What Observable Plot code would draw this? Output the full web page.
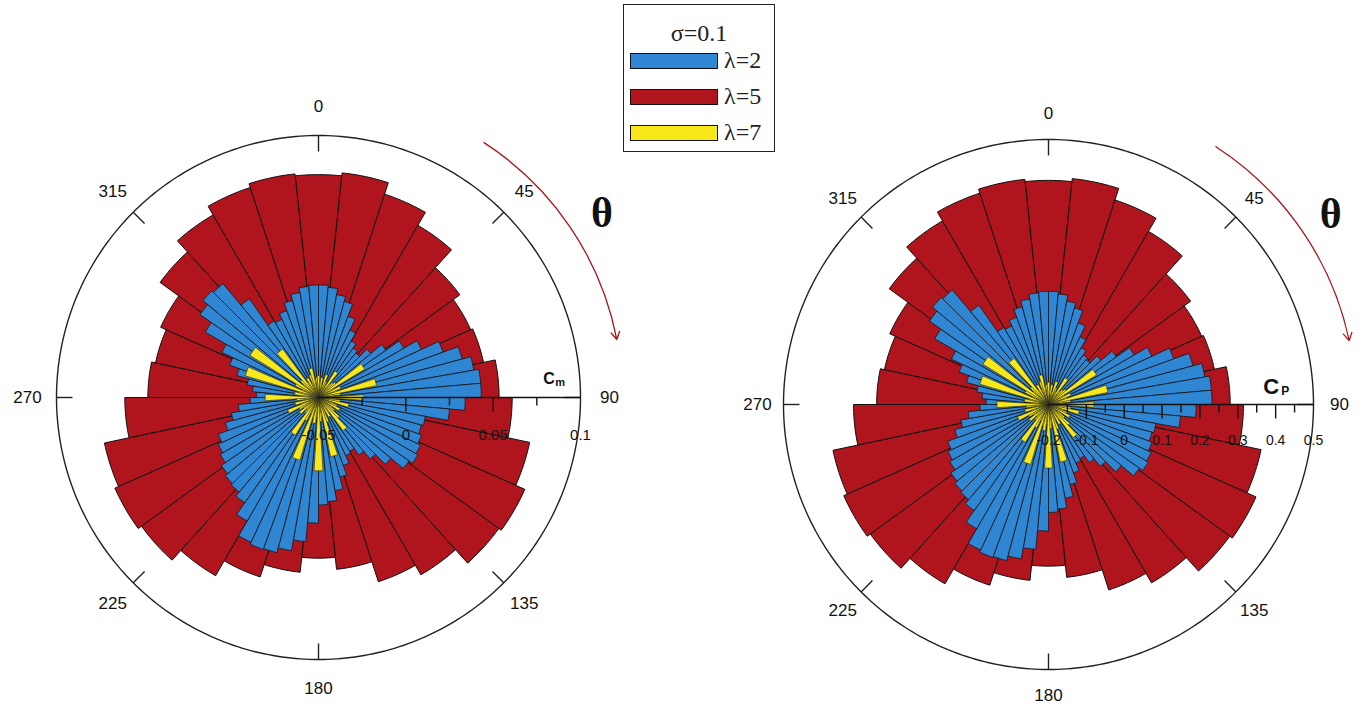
<!DOCTYPE html>
<html><head><meta charset="utf-8">
<script src="https://cdn.jsdelivr.net/npm/d3@7"></script>
<script src="https://cdn.jsdelivr.net/npm/@observablehq/plot@0.6"></script>
<style>
body{margin:0;background:#fff;width:1365px;height:706px;position:relative;overflow:hidden;font-family:"Liberation Sans",Arial,sans-serif}
#left{position:absolute;left:0;top:0}
#right{position:absolute;left:683px;top:0}
#legend{position:absolute;left:623px;top:4px;width:150px;height:146px;border:1.5px solid #222;background:#fff;font-family:"Liberation Serif","Times New Roman",serif;color:#222}
#legend .title{position:absolute;left:0;width:100%;top:15px;text-align:center;font-size:24px;line-height:26px}
#legend .sw{position:absolute;left:6px;width:86px;height:14px;border:1.3px solid #111}
#legend .lab{position:absolute;left:100px;font-size:24px;line-height:24px}
</style></head>
<body>
<div id="left"></div><div id="right"></div>
<div id="legend"></div>
<script>
// ---- data ----
const seriesNames = ["λ=2", "λ=5", "λ=7"];
const seriesColors = ["#2f86d3", "#b0141c", "#f8e81a"];
const legendTitle = "σ=0.1";

// angular bins (degrees, clockwise from top)
const redAngles = d3.range(0, 360, 12);       // 30 bars, 12° wide
const blueAngles = d3.range(2.5, 360, 5);     // 72 bars, 5° wide
const yellowAngles = d3.range(0, 360, 5);     // 72 bars

// left panel: Cm
const cmRed = [0.0776,0.0793,0.0724,0.0638,0.0500,0.0454,0.0466,0.0534,0.0609,0.0736,
  0.0793,0.0776,0.0672,0.0609,0.0489,0.0420,0.0506,0.0580,0.0678,0.0753,
  0.0776,0.0753,0.0609,0.0477,0.0454,0.0489,0.0621,0.0707,0.0764,0.0787];
const cmBlue = [0.0144,0.0133,0.0098,0.0069,-0.0006,-0.0075,-0.0126,-0.0155,-0.0167,-0.0109,
  -0.0029,0.0064,0.0150,0.0259,0.0351,0.0403,0.0432,0.0432,0.0340,0.0253,
  0.0121,0.0110,0.0127,0.0144,0.0156,0.0133,0.0041,-0.0040,-0.0098,-0.0144,
  -0.0132,-0.0086,-0.0029,0.0041,0.0098,0.0115,0.0219,0.0328,0.0391,0.0420,
  0.0426,0.0414,0.0317,0.0236,0.0207,0.0196,0.0179,0.0150,0.0133,0.0110,
  0.0052,0.0006,-0.0040,-0.0109,-0.0144,-0.0121,-0.0086,-0.0017,0.0041,0.0110,
  0.0248,0.0328,0.0363,0.0351,0.0190,0.0006,-0.0006,0.0029,0.0075,0.0110,
  0.0138,0.0144];
const cmYellow = [-0.0374,-0.0408,-0.0385,-0.0420,-0.0362,-0.0397,-0.0414,-0.0322,-0.0402,-0.0385,
  -0.0374,-0.0190,-0.0397,-0.0362,-0.0385,-0.0161,-0.0374,-0.0414,-0.0241,-0.0397,
  -0.0374,-0.0322,-0.0408,-0.0385,-0.0362,-0.0408,-0.0385,-0.0339,-0.0264,-0.0397,
  -0.0374,-0.0408,-0.0351,-0.0155,-0.0385,-0.0362,-0.0080,-0.0385,-0.0351,-0.0374,
  -0.0126,-0.0397,-0.0351,-0.0247,-0.0385,-0.0408,-0.0362,-0.0397,-0.0374,-0.0310,
  -0.0397,-0.0362,-0.0408,-0.0374,-0.0195,-0.0397,-0.0362,-0.0385,-0.0063,-0.0397,
  -0.0351,-0.0040,-0.0385,-0.0362,-0.0155,-0.0397,-0.0374,-0.0408,-0.0362,-0.0328,
  -0.0397,-0.0385];
const cmDomain = [-0.05, 0.1];
const cmTicks = [-0.025, 0, 0.025, 0.05, 0.075];
const cmMajor = [0, 0.05];
const cmLabels = [-0.05, 0, 0.05, 0.1];
const cmLabelText = ["-0.05", "0", "0.05", "0.1"];

// right panel: Cp
const cpRed = [0.392,0.400,0.368,0.328,0.264,0.243,0.248,0.280,0.315,0.374,
  0.400,0.392,0.344,0.315,0.259,0.227,0.267,0.302,0.347,0.382,
  0.392,0.382,0.315,0.254,0.243,0.259,0.320,0.360,0.387,0.398];
const cpBlue = [0.099,0.093,0.077,0.064,0.029,-0.003,-0.027,-0.040,-0.045,-0.019,
  0.019,0.061,0.101,0.152,0.195,0.219,0.232,0.232,0.190,0.150,
  0.088,0.083,0.091,0.099,0.104,0.093,0.051,0.013,-0.013,-0.035,
  -0.029,-0.008,0.019,0.051,0.077,0.085,0.134,0.184,0.214,0.227,
  0.230,0.224,0.179,0.142,0.128,0.123,0.115,0.101,0.093,0.083,
  0.056,0.035,0.013,-0.019,-0.035,-0.024,-0.008,0.024,0.051,0.083,
  0.147,0.184,0.200,0.195,0.120,0.035,0.029,0.045,0.067,0.083,
  0.096,0.099];
const cpYellow = [-0.141,-0.157,-0.147,-0.163,-0.136,-0.152,-0.160,-0.117,-0.155,-0.147,
  -0.141,-0.051,-0.152,-0.136,-0.147,-0.040,-0.141,-0.160,-0.080,-0.152,
  -0.141,-0.117,-0.157,-0.147,-0.136,-0.157,-0.147,-0.125,-0.091,-0.152,
  -0.141,-0.157,-0.131,-0.045,-0.147,-0.136,-0.032,-0.147,-0.131,-0.141,
  -0.035,-0.152,-0.131,-0.083,-0.147,-0.157,-0.136,-0.152,-0.141,-0.112,
  -0.152,-0.136,-0.157,-0.141,-0.064,-0.152,-0.136,-0.147,-0.011,-0.152,
  -0.131,0.003,-0.147,-0.136,-0.048,-0.152,-0.141,-0.157,-0.136,-0.120,
  -0.152,-0.147];
const cpDomain = [-0.2, 0.5];
const cpTicks = [-0.15,-0.1,-0.05,0,0.05,0.1,0.15,0.2,0.25,0.3,0.35,0.4,0.45];
const cpMajor = [-0.1,0,0.1,0.2,0.3,0.4];
const cpLabels = [-0.2,-0.1,0,0.1,0.2,0.3,0.4,0.5];
const cpLabelText = ["-0.2","-0.1","0","0.1","0.2","0.3","0.4","0.5"];

const angleTicks = [0,45,90,135,180,225,270,315];

// ---- drawing ----
const rad = Math.PI / 180;
const pt = (deg, r) => ({x: r * Math.sin(deg * rad), y: r * Math.cos(deg * rad)});

function polarChart(cfg) {
  const {W, H, cx, cy, R, domain} = cfg;
  const rs = d3.scaleLinear().domain(domain).range([0, 1]).clamp(true);
  function wedges(angles, values, width, sortAsc) {
    const out = [];
    let idx = d3.range(angles.length);
    if (sortAsc) idx = idx.sort((a, b) => values[a] - values[b]);
    idx.forEach((i, order) => {
      const a = angles[i];
      const r = rs(values[i]);
      out.push({x: 0, y: 0, k: order});
      const n = 10;
      for (let j = 0; j <= n; j++) out.push({...pt(a - width / 2 + width * j / n, r), k: order});
      out.push({x: 0, y: 0, k: order});
    });
    return out;
  }
  const circle = d3.range(0, 361, 1).map(a => pt(a, 1));
  const px = 1 / R;
  const sans = "Liberation Sans, Arial, sans-serif";
  return Plot.plot({
    width: W, height: H, margin: 0,
    x: {domain: [-cx / R, (W - cx) / R], range: [0, W], axis: null},
    y: {domain: [-(H - cy) / R, cy / R], range: [H, 0], axis: null},
    style: {background: "transparent", overflow: "visible"},
    marks: [
      Plot.line(circle, {x: "x", y: "y", stroke: "#222", strokeWidth: 1.4}),
      Plot.link(angleTicks, {x1: d => pt(d, 1 - 16 * px).x, y1: d => pt(d, 1 - 16 * px).y,
        x2: d => pt(d, 1).x, y2: d => pt(d, 1).y, stroke: "#222", strokeWidth: 1.4}),
      Plot.text(angleTicks, {x: d => pt(d, 291 * px).x, y: d => pt(d, 291 * px).y, text: d => String(d),
        fontSize: 17, fontFamily: sans, fill: "#111", lineAnchor: "middle"}),
      Plot.line(wedges(redAngles, cfg.red, 12), {x: "x", y: "y", z: "k", fill: seriesColors[1], stroke: "#111", strokeWidth: 1, curve: "linear"}),
      Plot.line(wedges(blueAngles, cfg.blue, 5), {x: "x", y: "y", z: "k", fill: seriesColors[0], stroke: "#111", strokeWidth: 0.75, curve: "linear"}),
      Plot.line(wedges(yellowAngles, cfg.yellow, 7, true), {x: "x", y: "y", z: "k", fill: seriesColors[2], stroke: "#222", strokeWidth: 0.6, curve: "linear"}),
      // radial axis
      Plot.link([0], {x1: () => 0, y1: () => 0, x2: () => 1, y2: () => 0, stroke: "#111", strokeWidth: 1.6}),
      Plot.link(cfg.ticks, {x1: d => rs(d), x2: d => rs(d), y1: () => 0,
        y2: d => (cfg.major.includes(d) ? -14 : -8) * px, stroke: "#111", strokeWidth: 1.4}),
      Plot.text(cfg.labels, {x: d => rs(d), y: () => 0, dy: cfg.labelDy, text: (d, i) => cfg.labelText[i],
        fontSize: cfg.labelSize, fontFamily: sans, fill: "#111", lineAnchor: "middle"}),
      // axis name
      Plot.text([cfg.axisName], {x: () => cfg.namePos[0], y: () => cfg.namePos[1], text: d => d,
        fontSize: cfg.nameSize, fontFamily: sans, fontWeight: "bold", fill: "#111", lineAnchor: "middle"}),
      Plot.text([cfg.axisSub], {x: () => cfg.subPos[0], y: () => cfg.subPos[1], text: d => d,
        fontSize: cfg.subSize, fontFamily: sans, fontWeight: "bold", fill: "#111", lineAnchor: "middle"}),
      // theta annotation
      Plot.arrow([0], {x1: () => pt(cfg.arc[0], cfg.arc[2]).x, y1: () => pt(cfg.arc[0], cfg.arc[2]).y,
        x2: () => pt(cfg.arc[1], cfg.arc[2]).x, y2: () => pt(cfg.arc[1], cfg.arc[2]).y,
        bend: (cfg.arc[1] - cfg.arc[0]) / 2, stroke: "#a8151c", strokeWidth: 1.3, headLength: 10}),
      Plot.text(["θ"], {x: () => pt(cfg.thetaPos[0], cfg.thetaPos[1]).x, y: () => pt(cfg.thetaPos[0], cfg.thetaPos[1]).y,
        text: d => d, fontSize: 42, fontWeight: "bold", fontFamily: "Liberation Serif, Times New Roman, serif", fill: "#111", lineAnchor: "middle"})
    ]
  });
}

document.getElementById("left").append(polarChart({
  W: 683, H: 706, cx: 318, cy: 397, R: 262, domain: cmDomain,
  red: cmRed, blue: cmBlue, yellow: cmYellow,
  ticks: cmTicks, major: cmMajor, labels: cmLabels, labelText: cmLabelText, labelDy: 38, labelSize: 15,
  axisName: "C", axisSub: "m", namePos: [0.88, 0.07], subPos: [0.922, 0.058], nameSize: 16, subSize: 11,
  arc: [33, 79, 1.16], thetaPos: [57, 1.29]
}));
document.getElementById("right").append(polarChart({
  W: 682, H: 706, cx: 365, cy: 404, R: 265, domain: cpDomain,
  red: cpRed, blue: cpBlue, yellow: cpYellow,
  ticks: cpTicks, major: cpMajor, labels: cpLabels, labelText: cpLabelText, labelDy: 36, labelSize: 14,
  axisName: "C", axisSub: "P", namePos: [0.84, 0.068], subPos: [0.893, 0.052], nameSize: 22, subSize: 12,
  arc: [33, 78, 1.16], thetaPos: [56, 1.285]
}));

// legend
const lg = document.getElementById("legend");
lg.innerHTML = `<div class="title">${legendTitle}</div>` + seriesNames.map((n, i) =>
  `<div class="sw" style="top:${48 + i * 36}px;background:${seriesColors[i]}"></div>` +
  `<div class="lab" style="top:${43 + i * 36}px">${n}</div>`).join("");
</script>
</body></html>
